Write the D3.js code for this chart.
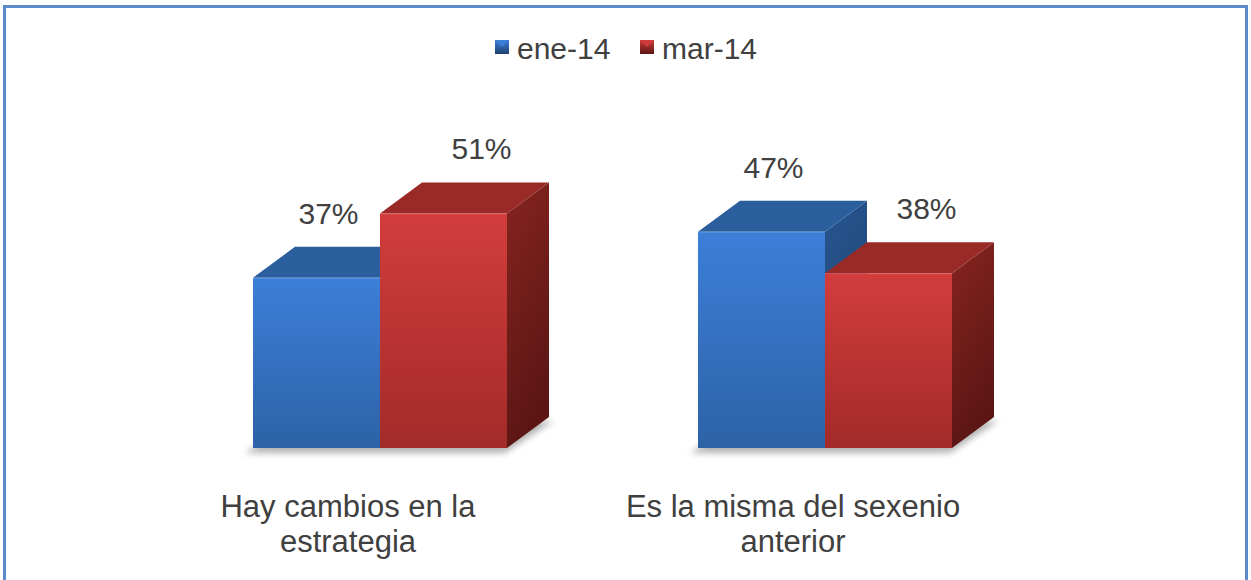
<!DOCTYPE html>
<html>
<head>
<meta charset="utf-8">
<script src="https://cdn.jsdelivr.net/npm/d3@7/dist/d3.min.js"></script>
<style>
  html, body { margin: 0; padding: 0; background: #fff; }
  svg { display: block; }
  text { font-family: "Liberation Sans", Arial, sans-serif; fill: #404040; }
</style>
</head>
<body>
<svg id="chart" width="1251" height="580"></svg>
<script>
const categories = ["Hay cambios en la estrategia", "Es la misma del sexenio anterior"];
const categoryLines = [["Hay cambios en la", "estrategia"], ["Es la misma del sexenio", "anterior"]];
const series = ["ene-14", "mar-14"];
const eneValues = [37, 47];
const marValues = [51, 38];
const valueLabels = [["37%", "51%"], ["47%", "38%"]];

const W = 1251, H = 580;
const svg = d3.select("#chart");

const pal = {
  "ene-14": { f0: "#3c7fd9", f1: "#2d62a6", top: "#2b5e9d", s0: "#275690", s1: "#1e4270" },
  "mar-14": { f0: "#d23d3c", f1: "#a22b29", top: "#992a27", s0: "#872420", s1: "#5b1614" }
};

const defs = svg.append("defs");
series.forEach((s, i) => {
  const p = pal[s];
  const gf = defs.append("linearGradient").attr("id", "front" + i).attr("x1", 0).attr("y1", 0).attr("x2", 0).attr("y2", 1);
  gf.append("stop").attr("offset", "0%").attr("stop-color", p.f0);
  gf.append("stop").attr("offset", "100%").attr("stop-color", p.f1);
  const gs = defs.append("linearGradient").attr("id", "side" + i).attr("x1", 0).attr("y1", 0).attr("x2", 0.3).attr("y2", 1);
  gs.append("stop").attr("offset", "0%").attr("stop-color", p.s0);
  gs.append("stop").attr("offset", "100%").attr("stop-color", p.s1);
  const gl = defs.append("linearGradient").attr("id", "leg" + i).attr("x1", 0).attr("y1", 0).attr("x2", 0).attr("y2", 1);
  gl.append("stop").attr("offset", "0%").attr("stop-color", p.f0);
  gl.append("stop").attr("offset", "100%").attr("stop-color", p.s1);
});
defs.append("filter").attr("id", "blur").attr("x", "-20%").attr("y", "-50%").attr("width", "140%").attr("height", "200%")
  .append("feGaussianBlur").attr("stdDeviation", 3);

svg.append("rect").attr("x", 4.5).attr("y", 6.5).attr("width", 1242).attr("height", 600)
  .attr("fill", "none").attr("stroke", "#5b8bc8").attr("stroke-width", 3);

const x = d3.scalePoint().domain(categories).range([380, 825]);
const xs = d3.scaleBand().domain(series).range([-127, 127]).padding(0);
const y = d3.scaleLinear().domain([0, 60]).range([448, 172]);
const dx = 42, dy = -31;

const data = [];
categories.forEach((c, ci) => {
  series.forEach((s, si) => {
    data.push({ c, ci, s, si, v: si === 0 ? eneValues[ci] : marValues[ci], label: valueLabels[ci][si] });
  });
});

categories.forEach(c => {
  const x0 = x(c) + xs(series[0]), x1 = x(c) + xs(series[1]) + xs.bandwidth();
  const b = y(0);
  svg.append("path")
    .attr("d", `M${x0 - 8},${b + 5} L${x1 - 2},${b + 5} L${x1 + dx + 4},${b + dy + 4} L${x0 + dx},${b + dy + 4} Z`)
    .attr("fill", "#808080").attr("opacity", 0.6).attr("filter", "url(#blur)");
});

const bars = svg.append("g");
data.forEach(d => {
  const bx = x(d.c) + xs(d.s), bw = xs.bandwidth();
  const top = y(d.v), base = y(0);
  const g = bars.append("g");
  g.append("path")
    .attr("d", `M${bx + bw},${top} L${bx + bw + dx},${top + dy} L${bx + bw + dx},${base + dy} L${bx + bw},${base} Z`)
    .attr("fill", `url(#side${d.si})`);
  g.append("path")
    .attr("d", `M${bx},${top} L${bx + dx},${top + dy} L${bx + bw + dx},${top + dy} L${bx + bw},${top} Z`)
    .attr("fill", pal[d.s].top);
  g.append("rect").attr("x", bx).attr("y", top).attr("width", bw).attr("height", base - top)
    .attr("fill", `url(#front${d.si})`);
  g.append("line").attr("x1", bx).attr("x2", bx + bw).attr("y1", top + 0.5).attr("y2", top + 0.5)
    .attr("stroke", "#ffffff").attr("stroke-opacity", 0.15);
});

svg.append("g").selectAll("text").data(data).join("text")
  .attr("x", d => x(d.c) + xs(d.s) + xs.bandwidth() / 2 + 12 + 26 * d.si)
  .attr("y", d => y(d.v) - 54)
  .attr("text-anchor", "middle")
  .attr("font-size", 30)
  .text(d => d.label);

categories.forEach((c, ci) => {
  categoryLines[ci].forEach((ln, li) => {
    svg.append("text").attr("text-anchor", "middle").attr("font-size", 31)
      .attr("x", x(c) - 32).attr("y", 517 + li * 35).text(ln);
  });
});

const legend = svg.append("g");
const legX = [495, 640];
series.forEach((s, i) => {
  legend.append("rect").attr("x", legX[i]).attr("y", 40).attr("width", 14).attr("height", 14)
    .attr("fill", `url(#leg${i})`);
  legend.append("path")
    .attr("d", `M${legX[i]},${40} L${legX[i] + 7},${47} L${legX[i] + 14},${40} Z`)
    .attr("fill", pal[s].f0).attr("opacity", 0.9);
  legend.append("text").attr("x", legX[i] + 22).attr("y", 59).attr("font-size", 30).text(s);
});
</script>
</body>
</html>
